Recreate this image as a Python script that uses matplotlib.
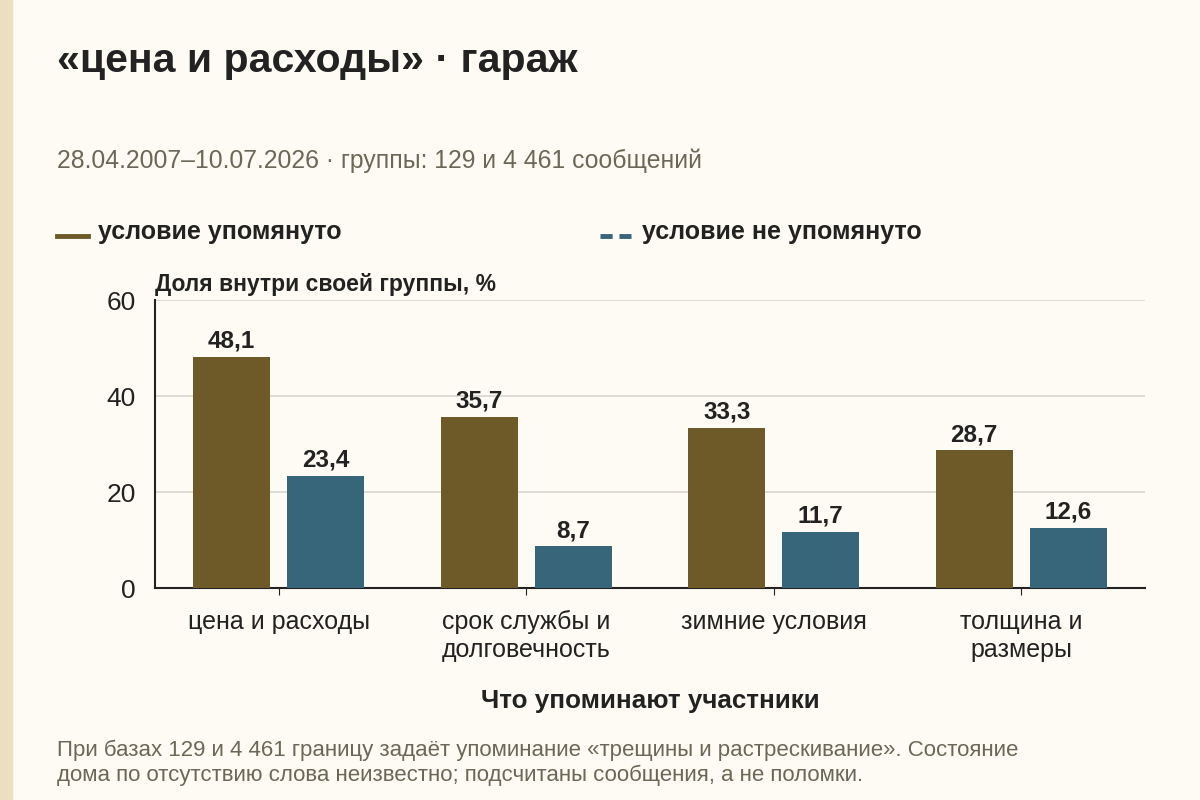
import matplotlib.pyplot as plt
import numpy as np
from matplotlib.lines import Line2D
from matplotlib.patches import Rectangle

plt.rcParams['font.family'] = ['Liberation Sans', 'DejaVu Sans']

# ===== Данные ===== #
categories = ['цена и расходы', 'срок службы и\nдолговечность', 'зимние условия', 'толщина и\nразмеры']
mentioned = [48.1, 35.7, 33.3, 28.7]
not_mentioned = [23.4, 8.7, 11.7, 12.6]
series_names = ['условие упомянуто', 'условие не упомянуто']
yticks = [0, 20, 40, 60]

bg = '#fdfbf3'
brown = '#6e5a28'
blue = '#376579'
dark = '#222222'
gray = '#6b6858'

fig = plt.figure(figsize=(12, 8), dpi=100, facecolor=bg)
fig.add_artist(Rectangle((0, 0), 12 / 1200, 1, transform=fig.transFigure,
                         color='#ebdfbf', zorder=0))

ax = fig.add_axes([155 / 1200, 1 - 588 / 800, 990 / 1200, 288 / 800])
ax.set_facecolor(bg)

x = np.arange(len(categories))
w = 0.31
off = 0.19
b1 = ax.bar(x - off, mentioned, w, color=brown, zorder=3)
b2 = ax.bar(x + off, not_mentioned, w, color=blue, zorder=3)

for bars, vals in [(b1, mentioned), (b2, not_mentioned)]:
    for rect, v in zip(bars, vals):
        ax.annotate(f'{v:.1f}'.replace('.', ','),
                    (rect.get_x() + rect.get_width() / 2, v),
                    xytext=(0, 3), textcoords='offset points',
                    ha='center', va='bottom', fontsize=17.5, fontweight='bold', color=dark)

ax.set_xlim(-0.5, len(categories) - 0.5)
ax.set_ylim(0, 60)
ax.set_yticks(yticks)
ax.set_yticklabels([str(t) for t in yticks], fontsize=19, color=dark)
ax.tick_params(axis='y', length=0, pad=14)
ax.set_xticks(x)
ax.set_xticklabels(categories, fontsize=18, color=dark, linespacing=1.2)
ax.tick_params(axis='x', length=5, color=dark, pad=11)
ax.grid(axis='y', color='#d8d6cf', linewidth=1.2, zorder=0)
for s in ['top', 'right']:
    ax.spines[s].set_visible(False)
for s in ['left', 'bottom']:
    ax.spines[s].set_color(dark)
    ax.spines[s].set_linewidth(1.5)

# ===== Textos ===== #
fig.text(57 / 1200, 1 - 61 / 800, '«цена и расходы» · гараж', fontsize=29.5,
         fontweight='bold', color=dark, va='center', ha='left')
fig.text(57 / 1200, 1 - 161 / 800, '28.04.2007–10.07.2026 · группы: 129 и 4 461 сообщений',
         fontsize=17.8, color=gray, va='center', ha='left')

fig.add_artist(Line2D([57 / 1200, 88 / 1200], [1 - 236 / 800] * 2, color=brown,
                      linewidth=3.5, transform=fig.transFigure))
fig.text(98 / 1200, 1 - 232 / 800, series_names[0], fontsize=18, fontweight='bold',
         color=dark, va='center', ha='left')
fig.add_artist(Line2D([600 / 1200, 631 / 1200], [1 - 236 / 800] * 2, color=blue,
                      linewidth=3.5, dashes=(2.5, 1.4), transform=fig.transFigure))
fig.text(642 / 1200, 1 - 232 / 800, series_names[1], fontsize=18, fontweight='bold',
         color=dark, va='center', ha='left')

fig.text(155 / 1200, 1 - 285 / 800, 'Доля внутри своей группы, %', fontsize=16.5,
         fontweight='bold', color=dark, va='center', ha='left')
fig.text(650 / 1200, 1 - 701 / 800, 'Что упоминают участники', fontsize=18.7,
         fontweight='bold', color=dark, va='center', ha='center')
fig.text(57 / 1200, 1 - 763 / 800,
         'При базах 129 и 4 461 границу задаёт упоминание «трещины и растрескивание». Состояние\n'
         'дома по отсутствию слова неизвестно; подсчитаны сообщения, а не поломки.',
         fontsize=16, color=gray, va='center', ha='left', linespacing=1.25)

fig.savefig('out.png', dpi=100, facecolor=bg)
